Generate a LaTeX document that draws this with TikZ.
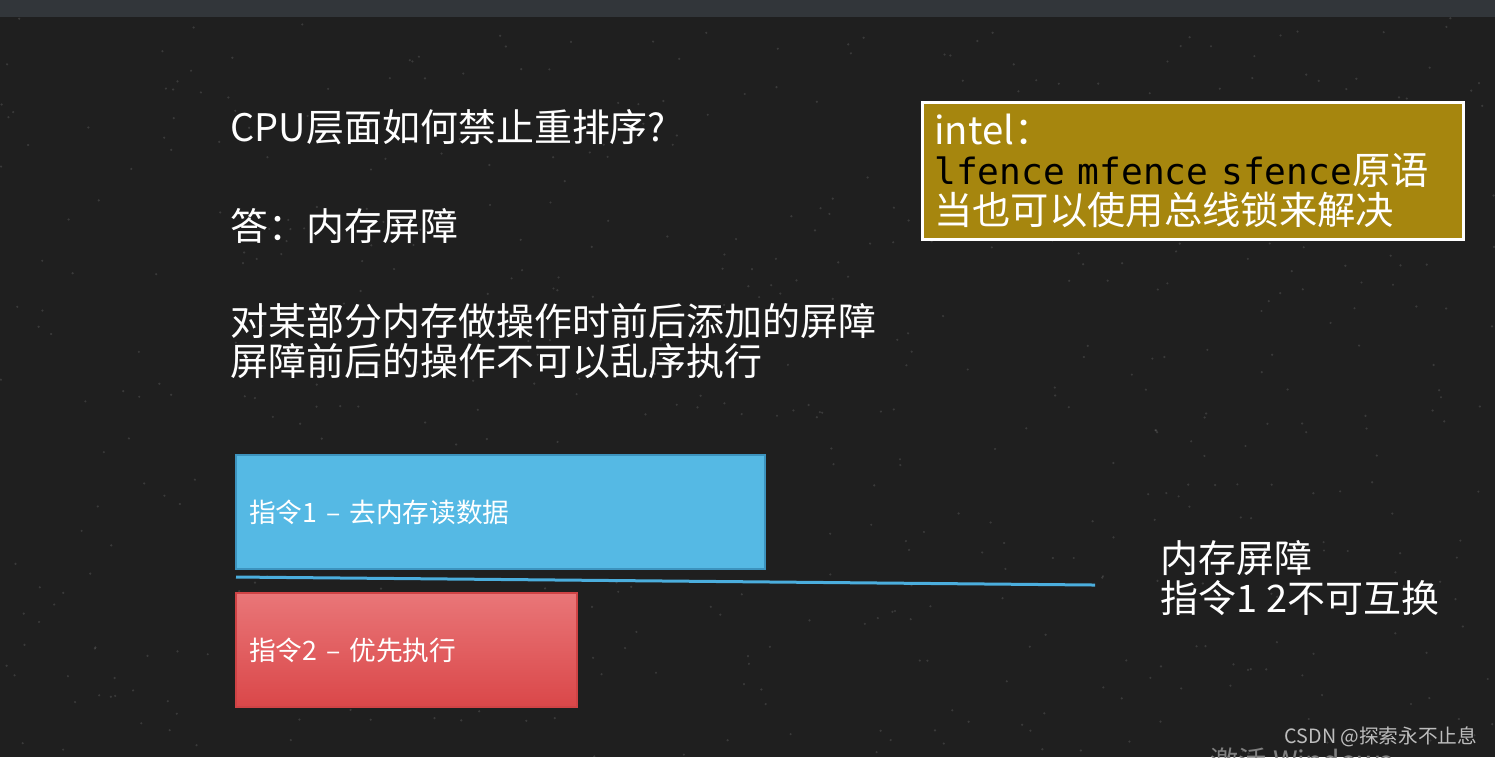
\documentclass[tikz,border=0pt]{standalone}
\usepackage{fontspec}
\setmainfont{Noto Sans CJK SC}
\setmonofont{DejaVu Sans Mono}
\usetikzlibrary{positioning}

\definecolor{barGray}{HTML}{32363A}
\definecolor{boardBlack}{HTML}{1F1F1F}
\definecolor{olive}{HTML}{A6860E}
\definecolor{skyBlue}{HTML}{55B9E4}
\definecolor{skyEdge}{HTML}{3C93BE}
\definecolor{redTop}{HTML}{E97678}
\definecolor{redBot}{HTML}{DA4749}
\definecolor{redEdge}{HTML}{CF4345}
\definecolor{sepBlue}{HTML}{4BAEDD}
\definecolor{markGray}{HTML}{BDBDBD}

\begin{document}
\begin{tikzpicture}[x=0.1mm,y=-0.1mm]
		\tikzset{Board/.style = {text=white, anchor=west, inner sep=0pt, align=left,
				font=\fontsize{10.8}{11.4}\selectfont},
			Instr/.style = {rectangle, draw=#1, line width=0.2mm, text=white, align=left,
				anchor=north west, minimum height=11.4mm, inner xsep=1.3mm,
				font=\fontsize{7.6}{9}\selectfont},
			Note/.style = {rectangle, draw=white, line width=0.25mm, fill=olive, text=white,
				align=left, anchor=north west, text width=51.7mm, minimum height=13.6mm,
				inner xsep=1.2mm, font=\fontsize{10.9}{11.4}\selectfont}}
		\useasboundingbox (0,0) rectangle (1495,757);
		\clip (0,0) rectangle (1495,757);
		% board and window bar
		\fill[boardBlack] (0,0) rectangle (1495,757);
		\pgfmathsetseed{17}
		\foreach \k in {1,...,600}
			\fill[white, opacity=0.12] (1495*rnd,17+740*rnd) circle (0.12mm);
		\fill[barGray] (0,0) rectangle (1495,17);

		\node[Board]    (Q)   at (230,127) {CPU层面如何禁止重排序?};
		\node[Board]    (Ans) at (230,226) {答：内存屏障};
		\node[Board]    (Def) at (230,341) {对某部分内存做操作时前后添加的屏障\\屏障前后的操作不可以乱序执行};

		\node[Note]     (Intel) at (921,101) {intel：\\{\fontsize{10.3}{11.4}\selectfont\ttfamily\color{black}lfence mfence sfence}原语\\当也可以使用总线锁来解决};

		\node[Instr=skyEdge, fill=skyBlue, text width=50.3mm] (I1) at (235,454) {指令1 – 去内存读数据};
		\node[Instr=redEdge, top color=redTop, bottom color=redBot, text width=31.5mm]
			(I2) [below=2.2mm of I1.south west, anchor=north west] {指令2 – 优先执行};

		\coordinate (sepL) at (236,577);
		\coordinate (sepR) at (1095,585);
		\draw[sepBlue, line width=0.3mm] (sepL) -- (sepR);

		\node[Board]    (Fence) at (1160,578) {内存屏障\\指令1 2不可互换};

		\node[text=markGray, anchor=east, inner sep=0pt, font=\fontsize{5.6}{6}\selectfont]
			(Mark) at (1478,737) {CSDN @探索永不止息};
		\node[text=gray, anchor=north west, inner sep=0pt, font=\fontsize{8}{9}\selectfont]
			(Win) at (1210,747) {激活 Windows};
	\end{tikzpicture}
\end{document}
